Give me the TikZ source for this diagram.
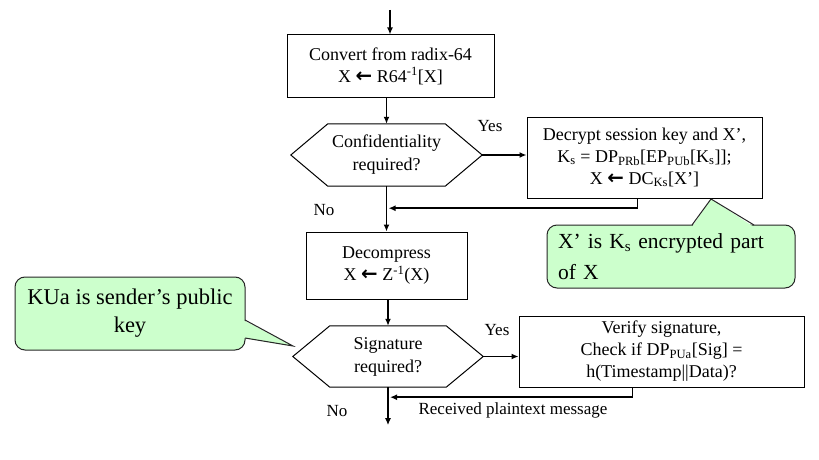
\documentclass[tikz,border=0pt]{standalone}
\usepackage{fontspec}
\setmainfont{Liberation Serif}
\newfontfamily\arrfont{DejaVu Sans}[Scale=1.1]
\newcommand\myarr{{\arrfont\bfseries ←}}
\usetikzlibrary{arrows.meta,calc}
\definecolor{cgreen}{HTML}{CCFFCC}
\begin{document}
\begin{tikzpicture}[x=1pt,y=-1pt,
  box/.style={draw, line width=1pt, align=center, font=\fontsize{18}{22}\selectfont, inner sep=0pt},
  hexa/.style={align=center, font=\fontsize{18}{23}\selectfont, inner sep=0pt},
  hexline/.style={line width=1pt},
  arr/.style={line width=1.8pt, -{Latex[length=7pt,width=6pt]}},
  lbl/.style={font=\fontsize{17}{20}\selectfont, inner sep=0pt},
  callout/.style={draw=black!85, fill=cgreen, line width=1pt, rounded corners=10pt, inner sep=0pt},
  pointer/.style={draw=black!85, line width=1pt}]
\useasboundingbox (0,0) rectangle (819,460);

% boxes
\node[box, minimum width=207pt, minimum height=62pt] (b1) at (390.5,66) {Convert from radix-64\\X \myarr{} R64\textsuperscript{-1}[X]};
\node[hexa, minimum width=191pt, minimum height=62pt] (h1) at (386.5,155) {Confidentiality\\required?};
\node[box, minimum width=235pt, minimum height=81pt] (b2) at (644.5,157.5) {Decrypt session key and X’,\\K\textsubscript{s} = DP\textsubscript{PRb}[EP\textsubscript{PUb}[K\textsubscript{s}]];\\X \myarr{} DC\textsubscript{Ks}[X’]};
\node[box, minimum width=161pt, minimum height=67pt] (b3) at (386.5,265.5) {Decompress\\X \myarr{} Z\textsuperscript{-1}(X)};
\node[hexa, minimum width=190pt, minimum height=61pt] (h2) at (388,356.5) {Signature\\required?};
\node[box, minimum width=285pt, minimum height=71pt] (b4) at (661.5,351.5) {Verify signature,\\Check if DP\textsubscript{PUa}[Sig] =\\h(Timestamp||Data)?};

% hexagon outlines
\foreach \h in {h1,h2}
  \draw[hexline] (\h.west) -- ([xshift=37pt]\h.north west) -- ([xshift=-37pt]\h.north east) -- (\h.east) -- ([xshift=-37pt]\h.south east) -- ([xshift=37pt]\h.south west) -- cycle;

% connectors
\coordinate (in) at (390,10);
\coordinate (out) at ($(h2.south)+(0,38)$);
\coordinate (r1) at ($(b2.south west)+(111,0)$);
\coordinate (j1) at ($(h1.south)+(2,22)$);
\coordinate (r2) at ($(b4.south west)+(114,0)$);
\coordinate (j2) at ($(h2.south)+(2,10)$);

\draw[arr] (in) -- (in |- b1.north);
\draw[arr] (b1.south -| h1.north) -- (h1.north);
\draw[arr] (h1.east) -- (b2.west |- h1.east);
\draw[arr] (h1.south) -- (b3.north);
\draw[arr] (b3.south -| h2.north) -- (h2.north);
\draw[arr] (h2.east) -- (b4.west |- h2.east);
\draw[arr] (h2.south) -- (out);
\draw[arr] (r1) |- (j1);
\draw[arr] (r2) |- (j2);

% labels
\node[lbl] (yes1) at (490,126) {Yes};
\node[lbl] (no1) at (324,210) {No};
\node[lbl] (yes2) at (497,330) {Yes};
\node[lbl] (no2) at (337,411) {No};
\node[lbl] (rpm) at (513,410) {Received plaintext message};

% callout 1
\node[callout, minimum width=248pt, minimum height=63pt, text width=226pt, align=left, font=\fontsize{21.5}{31}\selectfont] (c1) at (671,256.5) {X’ is K\textsubscript{s} encrypted part\\of X};
\fill[cgreen] (692,227) -- (711,199) -- (754,227) -- cycle;
\draw[pointer] (692,225) -- (711,199) -- (754,225);

% callout 2
\node[callout, minimum width=230pt, minimum height=73pt, align=center, font=\fontsize{22.5}{28}\selectfont] (c2) at (130,313.5) {KUa is sender’s public\\key};
\fill[cgreen] (243,320) -- (293,346) -- (243,338) -- cycle;
\draw[pointer] (245,320) -- (293,346) -- (245,338);
\end{tikzpicture}
\end{document}
